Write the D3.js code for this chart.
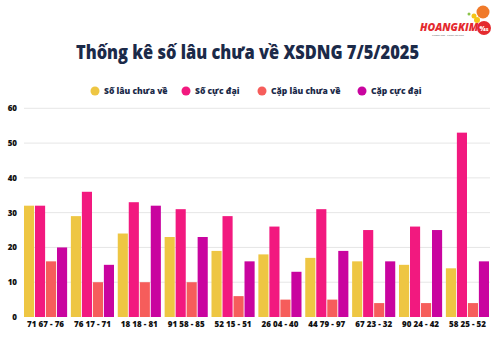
<!DOCTYPE html>
<html><head><meta charset="utf-8">
<script src="https://cdn.jsdelivr.net/npm/d3@7"></script>
<style>body{margin:0;background:#fff;} svg{display:block;font-family:"Open Sans",sans-serif;}</style>
</head><body><svg id="c" width="495" height="345"></svg>
<script>
const categories = ["71 67 - 76","76 17 - 71","18 18 - 81","91 58 - 85","52 15 - 51","26 04 - 40","44 79 - 97","67 23 - 32","90 24 - 42","58 25 - 52"];
const seriesNames = ["Số lâu chưa về","Số cực đại","Cặp lâu chưa về","Cặp cực đại"];
const soLauChuaVe = [32,29,24,23,19,18,17,16,15,14];
const soCucDai = [32,36,33,31,29,26,31,25,26,53];
const capLauChuaVe = [16,10,10,10,6,5,5,4,4,4];
const capCucDai = [20,15,32,23,16,13,19,16,25,16];
const yTicks = [0,10,20,30,40,50,60];
const colors = ["#EEC643","#F2197F","#F65D5B","#C9049F"];
const series = [soLauChuaVe, soCucDai, capLauChuaVe, capCucDai];

const svg = d3.select("#c");
const x0 = d3.scaleBand().domain(categories).range([24,489]).paddingInner(0.08).paddingOuter(0);
const x1 = d3.scaleBand().domain(d3.range(4)).range([0,x0.bandwidth()]).paddingInner(0.08);
const y = d3.scaleLinear().domain([0,60]).range([317,108.3]);

// grid
svg.append("g").selectAll("line").data(yTicks.filter(d=>d>0)).join("line")
  .attr("x1",24).attr("x2",490).attr("y1",d=>y(d)).attr("y2",d=>y(d))
  .attr("stroke","#e6e6e6").attr("stroke-width",1);

// y axis labels
const yAxis = d3.axisLeft(y).tickValues(yTicks).tickSize(0).tickPadding(0);
const ya = svg.append("g").attr("transform","translate(17,0)").call(yAxis);
ya.select(".domain").remove();
ya.selectAll("text").attr("font-size",8).attr("font-weight",800).attr("fill","#111").attr("font-family","Open Sans");

// bars
const g = svg.append("g").selectAll("g").data(categories).join("g")
  .attr("transform",d=>`translate(${x0(d)},0)`);
g.selectAll("rect").data((d,i)=>series.map((s,k)=>({k,v:s[i]}))).join("rect")
  .attr("x",d=>x1(d.k)).attr("width",x1.bandwidth())
  .attr("y",d=>y(d.v)).attr("height",d=>y(0)-y(d.v))
  .attr("fill",d=>colors[d.k]);

// x axis labels
const xAxis = d3.axisBottom(x0).tickSize(0).tickPadding(0);
const xa = svg.append("g").attr("transform","translate(0,321)").call(xAxis);
xa.select(".domain").remove();
xa.selectAll("text").attr("font-size",8).attr("font-weight",800).attr("fill","#111").attr("font-family","Open Sans");

// title
svg.append("text").attr("x",247.5).attr("y",59).attr("text-anchor","middle")
  .attr("font-family","Open Sans").attr("font-size",19).attr("font-weight",800).attr("fill","#1B2A49")
  .attr("textLength",343).attr("lengthAdjust","spacingAndGlyphs")
  .text("Thống kê số lâu chưa về XSDNG 7/5/2025");

// legend
const legX = [95,186,262,362];
const leg = svg.append("g").selectAll("g").data(seriesNames).join("g")
  .attr("transform",(d,i)=>`translate(${legX[i]},91)`);
leg.append("circle").attr("r",4.5).attr("fill",(d,i)=>colors[i]);
leg.append("text").attr("x",9).attr("y",3).attr("font-size",8.5).attr("font-weight",800).attr("fill","#1B2A49").text(d=>d);

// logo
const logo = svg.append("g");
logo.append("circle").attr("cx",483).attr("cy",12).attr("r",6.5).attr("fill","#F07A2A");
logo.append("circle").attr("cx",474).attr("cy",16).attr("r",2.5).attr("fill","#F5C518");
logo.append("circle").attr("cx",469).attr("cy",14).attr("r",1.5).attr("fill","#8BC34A");
logo.append("circle").attr("cx",477).attr("cy",20).attr("r",3).attr("fill","#F5C518");
logo.append("text").attr("x",420).attr("y",31).attr("font-size",10.5).attr("font-weight",800).attr("font-style","italic").attr("fill","#E42A2F").text("HOANGKIM");
logo.append("circle").attr("cx",484).attr("cy",28).attr("r",7).attr("fill","#E42A2F");
logo.append("text").attr("x",484).attr("y",31).attr("text-anchor","middle").attr("font-size",7).attr("font-weight",800).attr("fill","#fff").text("6⁄45");
logo.append("text").attr("x",432).attr("y",36).attr("font-size",2.5).attr("fill","#555").text("Nhanh hơn · Chính xác hơn");
</script></body></html>
